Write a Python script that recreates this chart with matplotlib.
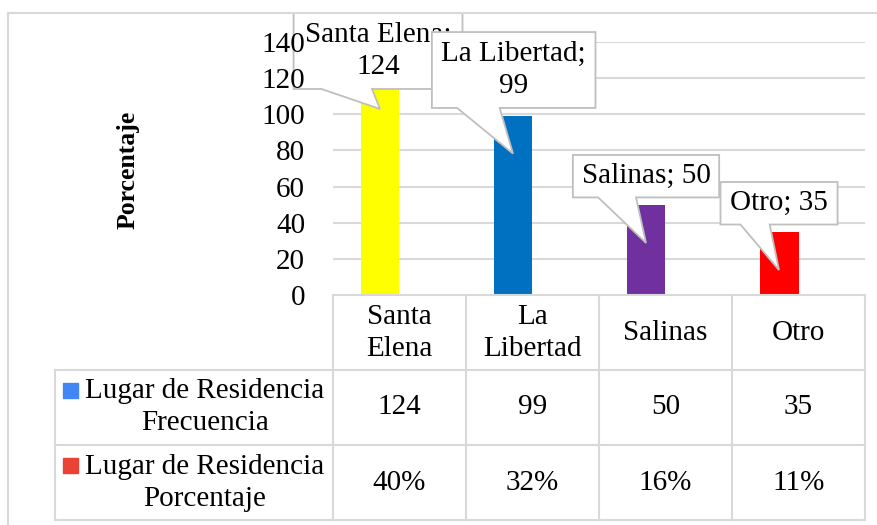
import numpy as np
import matplotlib
matplotlib.use("Agg")
import matplotlib.pyplot as plt
from matplotlib.patches import Polygon, Rectangle
from matplotlib.lines import Line2D

plt.rcParams['font.family'] = ['Liberation Serif', 'DejaVu Serif']

# Data
categories = ["Santa Elena", "La Libertad", "Salinas", "Otro"]
header_labels = ["Santa\nElena", "La\nLibertad", "Salinas", "Otro"]
frecuencia = [124, 99, 50, 35]
porcentaje = [0.40, 0.32, 0.16, 0.11]
bar_colors = ["#ffff00", "#0070c0", "#7030a0", "#ff0000"]
series_names = ["Lugar de Residencia\nFrecuencia", "Lugar de Residencia\nPorcentaje"]
key_colors = ["#4285f4", "#ea4335"]

# callout layout: box left/right offset from bar centre, box bottom/top (value units),
# pointer base offsets, tip as fraction of the bar height, wrap label
callouts = [
    (-0.65, 0.62, 114, 156, -0.44, -0.06, 0.83, True),
    (-0.61, 0.62, 103.5, 145.5, -0.42, -0.10, 0.79, True),
    (-0.55, 0.55, 54, 77.5, -0.36, -0.075, 0.576, False),
    (-0.44, 0.44, 39, 62.5, -0.29, -0.07, 0.394, False),
]

FS = 21
W, H = 878, 525
fig = plt.figure(figsize=(W / 100, H / 100), dpi=100)

def frac(x0, y0, x1, y1):
    return [x0 / W, 1 - y1 / H, (x1 - x0) / W, (y1 - y0) / H]

# chart border: only top and left edges show
fig.add_artist(Line2D([8 / W, 1.0], [1 - 13 / H, 1 - 13 / H], color="#d9d9d9", lw=1.5))
fig.add_artist(Line2D([8 / W, 8 / W], [0, 1 - 13 / H], color="#d9d9d9", lw=1.5))

ax = fig.add_axes(frac(333, 42, 865, 295))
x = np.arange(len(categories))
w = 0.293
ax.bar(x - w / 2, frecuencia, w, color=bar_colors, zorder=3)
ax.bar(x + w / 2, porcentaje, w, color=key_colors[1], zorder=3)

ax.set_xlim(-0.5, 3.5)
ax.set_ylim(0, 140)
ticks = np.arange(0, 141, 20)
ax.set_yticks(ticks)
ax.set_xticks([])
ax.tick_params(axis="y", length=0, pad=20, labelsize=FS)
for t in ticks[1:]:
    ax.axhline(t, color="#d9d9d9", lw=1.5, zorder=0)
ax.yaxis.set_zorder(30)
for s in ax.spines.values():
    s.set_visible(False)

fig.text(128 / W, 1 - 170 / H, "Porcentaje", rotation=90, fontsize=18.5,
         fontweight="bold", ha="center", va="center")

# callouts
for i, (cat, val, c) in enumerate(zip(categories, frecuencia, callouts)):
    l, r, b, t, bl, br, tip, wrap = c
    cx = x[i] - w / 2
    pts = [(cx + l, t), (cx + r, t), (cx + r, b), (cx + br, b),
           (cx, val * tip), (cx + bl, b), (cx + l, b)]
    ax.add_patch(Polygon(pts, closed=True, fc="white", ec="#bfbfbf", lw=1.3,
                         zorder=10 + 2 * i, clip_on=False))
    label = f"{cat};\n{val}" if wrap else f"{cat}; {val}"
    ax.text(cx + (l + r) / 2, (b + t) / 2, label, ha="center", va="center",
            fontsize=FS, linespacing=1.3, zorder=11 + 2 * i, clip_on=False)

# data table
tab = fig.add_axes(frac(55, 295, 865, 520))
left = -0.5 - 278 / 133
tab.set_xlim(left, 3.5)
tab.set_ylim(3, 0)
tab.axis("off")
lc = "#d9d9d9"
tab.plot([-0.5, 3.5], [0, 0], color=lc, lw=1.5, clip_on=False)
for yy in [1, 2, 3]:
    tab.plot([left, 3.5], [yy, yy], color=lc, lw=1.5, clip_on=False)
tab.plot([left, left], [1, 3], color=lc, lw=1.5, clip_on=False)
for xx in np.arange(-0.5, 3.6, 1):
    tab.plot([xx, xx], [0, 3], color=lc, lw=1.5, clip_on=False)

for i, lab in enumerate(header_labels):
    tab.text(i, 0.5, lab, ha="center", va="center", fontsize=FS, linespacing=1.3)
for i, v in enumerate(frecuencia):
    tab.text(i, 1.5, str(v), ha="center", va="center", fontsize=FS)
for i, p in enumerate(porcentaje):
    tab.text(i, 2.5, f"{p:.0%}", ha="center", va="center", fontsize=FS)

label_x = (205 - 333) / 133 - 0.5
key_x = (63 - 333) / 133 - 0.5
for r, (name, kc) in enumerate(zip(series_names, key_colors)):
    tab.text(label_x, r + 1.5, name, ha="center", va="center", fontsize=FS, linespacing=1.3)
    tab.add_patch(Rectangle((key_x, r + 1.17), 15 / 133, 0.2, color=kc))

fig.savefig("out.png", dpi=100)
